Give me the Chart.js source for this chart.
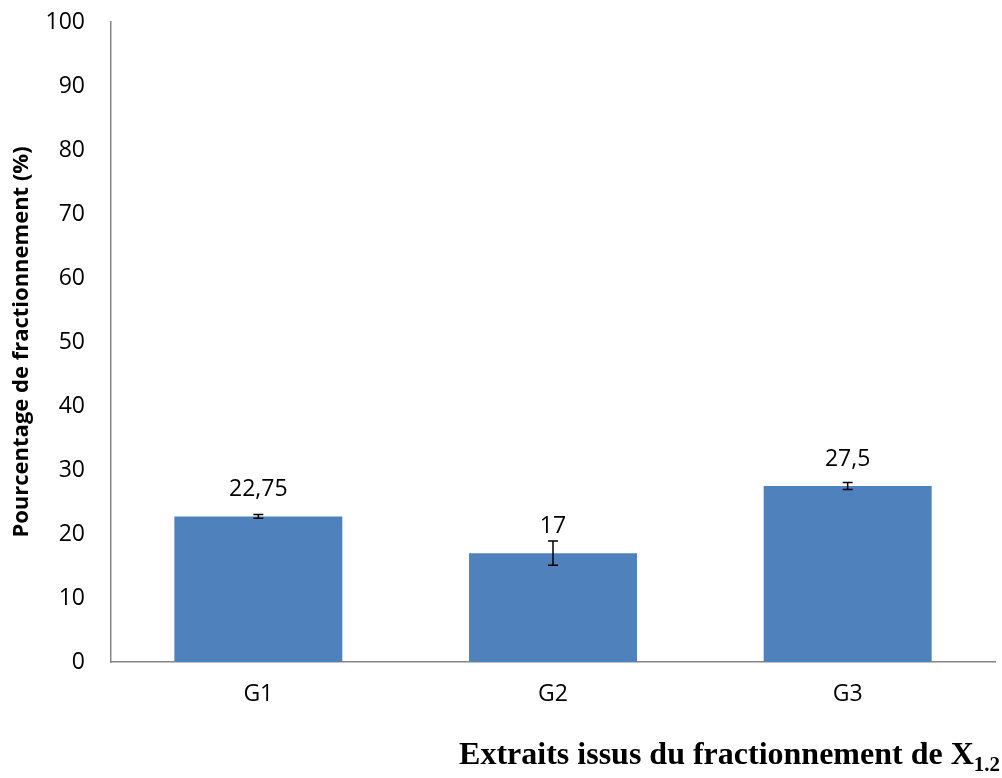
<!DOCTYPE html>
<html>
<head>
<meta charset="utf-8">
<script src="https://cdn.jsdelivr.net/npm/chart.js@4"></script>
<style>
  body { margin: 0; background: #fff; }
  #wrap { width: 1002px; height: 778px; }
</style>
</head>
<body>
<div id="wrap"><canvas id="barCanvas" width="1002" height="778"></canvas></div>
<script>
const categories = ['G1', 'G2', 'G3'];
const values = [22.75, 17, 27.5];
const errors = [0.3, 1.9, 0.55];
const valueLabels = ['22,75', '17', '27,5'];

const errorBars = {
    id: 'errorBars',
    afterDatasetsDraw(chart) {
        const { ctx } = chart;
        const y = chart.scales.y;
        const meta = chart.getDatasetMeta(0);
        ctx.save();
        meta.data.forEach((bar, i) => {
            const top = y.getPixelForValue(values[i] + errors[i]);
            const bot = y.getPixelForValue(values[i] - errors[i]);
            ctx.strokeStyle = '#000';
            ctx.lineWidth = 1.5;
            ctx.beginPath();
            ctx.moveTo(bar.x, top); ctx.lineTo(bar.x, bot);
            ctx.moveTo(bar.x - 5, top); ctx.lineTo(bar.x + 5, top);
            ctx.moveTo(bar.x - 5, bot); ctx.lineTo(bar.x + 5, bot);
            ctx.stroke();
            ctx.fillStyle = '#000';
            ctx.font = '23px "Open Sans", sans-serif';
            ctx.textAlign = 'center';
            ctx.textBaseline = 'middle';
            ctx.fillText(valueLabels[i], bar.x, bar.y - 27);
        });
        // x axis title with subscript
        const main = 'Extraits issus du fractionnement de X';
        const sub = '1.2';
        ctx.textAlign = 'left';
        ctx.textBaseline = 'alphabetic';
        ctx.font = 'bold 32px "Liberation Serif", serif';
        const w1 = ctx.measureText(main).width;
        ctx.font = 'bold 21px "Liberation Serif", serif';
        const w2 = ctx.measureText(sub).width;
        const x0 = 1000 - w1 - w2;
        ctx.font = 'bold 32px "Liberation Serif", serif';
        ctx.fillText(main, x0, 764);
        ctx.font = 'bold 21px "Liberation Serif", serif';
        ctx.fillText(sub, x0 + w1, 771);
        ctx.restore();
    }
};

new Chart(document.getElementById('barCanvas'), {
    type: 'bar',
    data: {
        labels: categories,
        datasets: [{
            data: values,
            backgroundColor: '#4f81bd',
            borderWidth: 0,
            categoryPercentage: 1,
            barPercentage: 0.57
        }]
    },
    options: {
        responsive: false,
        animation: false,
        layout: { padding: { top: 22, right: 7, left: 9, bottom: 0 } },
        plugins: { legend: { display: false }, tooltip: { enabled: false } },
        scales: {
            x: {
                grid: { display: false, drawTicks: false },
                border: { color: '#868686', width: 1.5 },
                ticks: { color: '#000', font: { family: '"Open Sans", sans-serif', size: 23 }, padding: 19 },
                afterFit(scale) { scale.height = 116; }
            },
            y: {
                min: 0, max: 100,
                grid: { display: false, drawTicks: false },
                border: { color: '#868686', width: 1.5 },
                ticks: { stepSize: 10, color: '#000', font: { family: '"Open Sans", sans-serif', size: 23 }, padding: 26 },
                title: {
                    display: true,
                    text: 'Pourcentage de fractionnement (%)',
                    color: '#000',
                    font: { family: '"Open Sans", sans-serif', size: 22, weight: 'bold' },
                    padding: { top: 0, bottom: 3 }
                },
                afterFit(scale) { scale.width = 102; scale.paddingTop = 0; }
            }
        }
    },
    plugins: [errorBars]
});
</script>
</body>
</html>
